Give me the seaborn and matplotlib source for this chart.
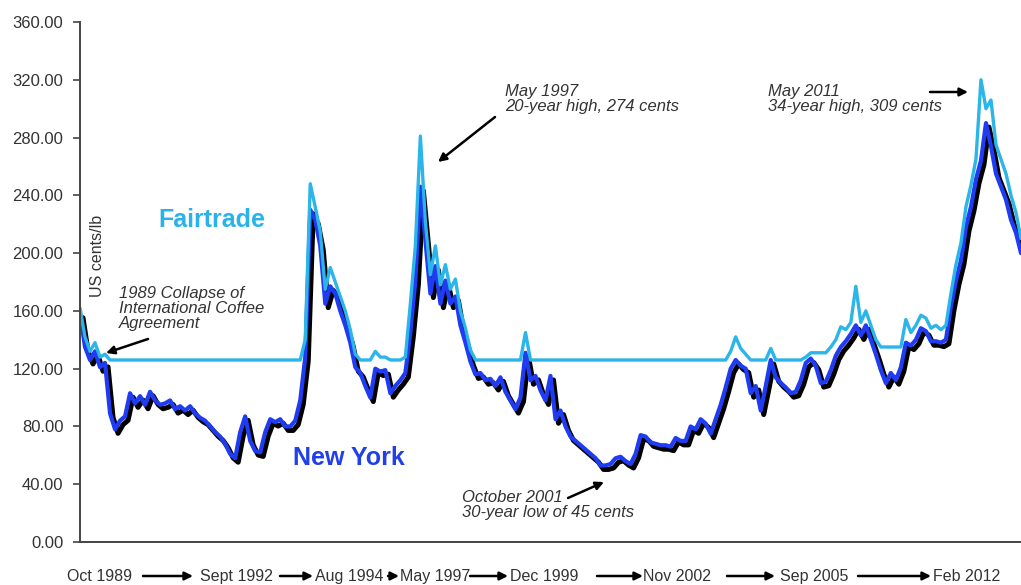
import matplotlib
matplotlib.use('Agg')
import matplotlib.pyplot as plt
import matplotlib.transforms as mtransforms
import seaborn as sns
import pandas as pd

# New York (ICE arabica) price, US cents/lb on an even time grid
new_york = [
    158, 135, 126, 132, 121, 124, 89, 78, 84, 87,
    103, 96, 101, 95, 104, 98, 95, 96, 98, 92,
    94, 91, 94, 89, 86, 84, 80, 76, 73, 68,
    61, 58, 76, 87, 70, 63, 62, 76, 85, 83,
    85, 80, 80, 84, 98, 128, 230, 223, 205, 165,
    177, 172, 160, 150, 138, 121, 117, 108, 100, 120,
    118, 119, 103, 108, 112, 117, 145, 181, 246, 209,
    172, 191, 165, 181, 165, 170, 150, 138, 125, 116,
    117, 112, 113, 108, 114, 104, 98, 92, 100, 131,
    112, 115, 105, 98, 115, 85, 91, 80, 73, 70,
    67, 64, 61, 58, 53, 53, 54, 58, 59, 56,
    54, 61, 74, 73, 69, 68, 67, 67, 66, 72,
    70, 70, 80, 78, 85, 82, 75, 85, 95, 107,
    120, 126, 122, 120, 103, 108, 91, 108, 126, 114,
    110, 107, 103, 104, 112, 124, 127, 122, 110, 111,
    119, 129, 135, 139, 144, 150, 143, 150, 140, 130,
    119, 110, 117, 112, 121, 138, 136, 140, 148, 146,
    139, 139, 138, 140, 163, 181, 195, 218, 232, 251,
    264, 290, 274, 255, 246, 237, 223, 214, 200,
]

# Fairtrade price (minimum price floor or market + premium), US cents/lb
fairtrade = [
    162, 142, 132, 138, 128, 130, 126, 126, 126, 126,
    126, 126, 126, 126, 126, 126, 126, 126, 126, 126,
    126, 126, 126, 126, 126, 126, 126, 126, 126, 126,
    126, 126, 126, 126, 126, 126, 126, 126, 126, 126,
    126, 126, 126, 126, 126, 140, 248, 232, 215, 175,
    190, 180, 170, 160, 147, 130, 126, 126, 126, 132,
    128, 128, 126, 126, 126, 128, 165, 205, 281, 222,
    185, 205, 178, 192, 175, 182, 160, 148, 133, 126,
    126, 126, 126, 126, 126, 126, 126, 126, 126, 145,
    126, 126, 126, 126, 126, 126, 126, 126, 126, 126,
    126, 126, 126, 126, 126, 126, 126, 126, 126, 126,
    126, 126, 126, 126, 126, 126, 126, 126, 126, 126,
    126, 126, 126, 126, 126, 126, 126, 126, 126, 126,
    132, 142, 134, 130, 126, 126, 126, 126, 134, 126,
    126, 126, 126, 126, 126, 128, 131, 131, 131, 131,
    135, 140, 149, 147, 152, 177, 152, 160, 150, 140,
    135, 135, 135, 135, 135, 154, 145, 150, 157, 155,
    148, 150, 147, 150, 172, 192, 207, 232, 247, 265,
    320, 300, 306, 275, 265, 255, 240, 228, 210,
]

dates = pd.date_range('1989-10-01', '2012-02-01', periods=len(new_york))

period_labels = ['Oct 1989', 'Sept 1992', 'Aug 1994', 'May 1997',
                 'Dec 1999', 'Nov 2002', 'Sep 2005', 'Feb 2012']
y_ticks = [0, 40, 80, 120, 160, 200, 240, 280, 320, 360]

BLUE = '#1f3cf2'
CYAN = '#2bb5e8'
TEXT = '#333333'

sns.set_style('ticks')
plt.rcParams['font.family'] = ['Liberation Sans', 'DejaVu Sans']

W, H = 1021, 585
fig = plt.figure(figsize=(W / 100, H / 100), dpi=100)
ax = fig.add_axes([80 / W, 43 / H, 1 - 80 / W, 520 / H])


def px(x, y):
    # image pixel (top-left origin) -> figure fraction
    return (x / W, 1 - y / H)


df = pd.DataFrame({'date': dates, 'ny': new_york, 'ft': fairtrade})

# black drop shadow under the New York line
shadow = mtransforms.offset_copy(ax.transData, fig=fig, x=3, y=-4, units='dots')
sns.lineplot(data=df, x='date', y='ny', ax=ax, color='black', lw=3.6,
             estimator=None, transform=shadow)
sns.lineplot(data=df, x='date', y='ny', ax=ax, color=BLUE, lw=3.0, estimator=None)
sns.lineplot(data=df, x='date', y='ft', ax=ax, color=CYAN, lw=2.4, estimator=None)

ax.set_xlim(dates[0], dates[-1])
ax.set_ylim(0, 360)
ax.set_xticks([])
ax.set_yticks(y_ticks)
ax.set_yticklabels([f'{v:.2f}' for v in y_ticks])
ax.set_xlabel('')
ax.set_ylabel('')
ax.tick_params(axis='y', length=5, width=1.2, color='#444444',
               labelsize=12, labelcolor=TEXT, pad=7)
sns.despine(ax=ax)
for s in ['left', 'bottom']:
    ax.spines[s].set_color('#444444')
    ax.spines[s].set_linewidth(1.4)

# series labels
fig.text(*px(158, 227), 'Fairtrade', color='#2ab3ea', fontsize=18,
         fontweight='bold', va='baseline')
fig.text(*px(293, 465), 'New York', color='#2140e8', fontsize=18,
         fontweight='bold', va='baseline')
fig.text(*px(97, 256), 'US cents/lb', color=TEXT, fontsize=11.5,
         rotation=90, ha='center', va='center')

arrow = dict(arrowstyle='-|>', lw=1.8, color='black', mutation_scale=12,
             shrinkA=0, shrinkB=0)

notes = [
    ('1989 Collapse of\nInternational Coffee\nAgreement', (119, 286), (148, 339), (106, 353)),
    ('May 1997\n20-year high, 274 cents', (505, 84), (495, 117), (438, 162)),
    ('May 2011\n34-year high, 309 cents', (768, 84), (930, 92), (968, 92)),
    ('October 2001\n30-year low of 45 cents', (462, 490), (568, 498), (604, 482)),
]
for txt, tpos, tail, head in notes:
    fig.text(*px(*tpos), txt, color=TEXT, fontsize=12, style='italic',
             va='top', ha='left', linespacing=1.0)
    ax.annotate('', xy=px(*head), xytext=px(*tail), xycoords='figure fraction',
                textcoords='figure fraction', arrowprops=arrow)

# timeline along the bottom
label_left = [67, 200, 315, 400, 510, 643, 780, 933]
arrow_span = [(143, 193), (280, 313), (388, 399), (470, 508),
              (597, 643), (727, 775), (858, 931)]
for lab, lx in zip(period_labels, label_left):
    fig.text(*px(lx, 581), lab, color=TEXT, fontsize=11.5, va='baseline', ha='left')
for a, b in arrow_span:
    ax.annotate('', xy=px(b, 576), xytext=px(a, 576), xycoords='figure fraction',
                textcoords='figure fraction', arrowprops=arrow)

fig.savefig('out.png', dpi=100)
